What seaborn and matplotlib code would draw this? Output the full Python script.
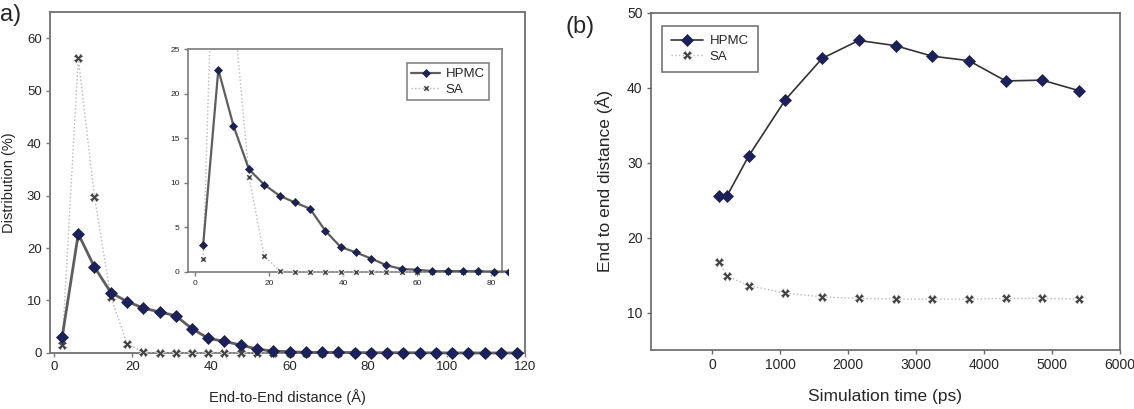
import numpy as np
import pandas as pd
import matplotlib
matplotlib.use("Agg")
import matplotlib.pyplot as plt
import seaborn as sns
from matplotlib.transforms import Bbox, TransformedBbox

sns.set_style("white")
plt.rcParams['font.family'] = ['Liberation Sans', 'DejaVu Sans']

# panel a: end-to-end distance distribution (bin centres, A)
dist = [2.1, 6.2, 10.3, 14.5, 18.6, 22.8, 26.9, 31.0, 35.2, 39.3, 43.4, 47.6,
        51.7, 55.9, 60.0, 64.1, 68.3, 72.4, 76.6, 80.7, 84.8, 89.0, 93.1, 97.2,
        101.4, 105.5, 109.7, 113.8, 117.9]
hpmc_dist = [3.05, 22.7, 16.4, 11.5, 9.8, 8.55, 7.8, 7.1, 4.6, 2.8, 2.2, 1.5,
             0.75, 0.33, 0.25, 0.1, 0.1, 0.1, 0.08, 0.05, 0.05, 0.05, 0.03, 0.03,
             0.0, 0.0, 0.0, 0.0, 0.0]
sa_dist = [1.5, 56.2, 29.8, 10.7, 1.8, 0.15, 0.05, 0.0, 0.0, 0.0, 0.0, 0.0,
           0.0, 0.0, 0.0, 0.0, 0.0, 0.0, 0.0, 0.0, 0.0, 0.0, 0.0, 0.0,
           0.0, 0.0, 0.0, 0.0, 0.0]

# panel b: end to end distance vs simulation time
time_ps = [108, 216, 540, 1080, 1620, 2160, 2700, 3240, 3780, 4320, 4860, 5400]
hpmc_time = [25.6, 25.5, 30.9, 38.4, 43.9, 46.3, 45.6, 44.2, 43.6, 40.9, 41.0, 39.6]
sa_time = [16.7, 14.9, 13.6, 12.6, 12.1, 11.9, 11.8, 11.8, 11.8, 11.9, 11.9, 11.8]

dfa = pd.DataFrame({'d': dist, 'HPMC': hpmc_dist, 'SA': sa_dist})
dfb = pd.DataFrame({'t': time_ps, 'HPMC': hpmc_time, 'SA': sa_time})

navy = '#1b2062'
hp_line = '#5e5e5e'
sa_line = '#b8b8b8'
sa_mark = '#454545'
spine_c = '#7a7a7a'

fig = plt.figure(figsize=(11.34, 4.09), dpi=100)

def style_axes(ax, lw=1.4, col=spine_c, size=10):
    for s in ax.spines.values():
        s.set_color(col)
        s.set_linewidth(lw)
    ax.tick_params(direction='out', length=3, width=1, color=col, pad=3,
                   bottom=True, left=True, labelsize=size)

def draw(ax, df, xcol, ms_d, ms_x, hp_lw, clip=True):
    sns.lineplot(data=df, x=xcol, y='SA', ax=ax, color=sa_line, lw=1.0,
                 linestyle=':', marker='X', markersize=ms_x,
                 markerfacecolor=sa_mark, markeredgecolor='white',
                 markeredgewidth=0.5, label='SA', clip_on=clip, zorder=3)
    sns.lineplot(data=df, x=xcol, y='HPMC', ax=ax, color=hp_line, lw=hp_lw,
                 marker='D', markersize=ms_d, markerfacecolor=navy,
                 markeredgecolor='#222222', markeredgewidth=0.5,
                 label='HPMC', clip_on=clip, zorder=4)

# ---- panel a main
axA = fig.add_axes([0.0441, 0.137, 0.419, 0.834])
draw(axA, dfa, 'd', 6, 6.5, 2.0, clip=False)
axA.set_xlim(-1, 120)
axA.set_ylim(0, 65)
axA.set_xticks([0, 20, 40, 60, 80, 100, 120])
axA.set_yticks([0, 10, 20, 30, 40, 50, 60])
axA.set_xlabel('End-to-End distance (Å)', fontsize=10.5, labelpad=11)
axA.set_ylabel('Distribution (%)', fontsize=10.5, labelpad=8)
axA.get_legend().remove()
style_axes(axA, size=9.5)

# ---- inset
ins = fig.add_axes([0.1658, 0.335, 0.277, 0.545])
draw(ins, dfa, 'd', 4.5, 4.5, 1.6, clip=True)
for ln in ins.lines:
    ln.set_clip_box(TransformedBbox(Bbox([[-0.02, -0.05], [1.02, 1]]),
                                    ins.transAxes))
ins.set_xlim(-2, 83)
ins.set_ylim(0, 25)
ins.set_xticks([0, 20, 40, 60, 80])
ins.set_yticks([0, 5, 10, 15, 20, 25])
ins.set_xlabel('')
ins.set_ylabel('')
style_axes(ins, lw=1.2, size=6)
h, l = ins.get_legend_handles_labels()
leg = ins.legend(h[::-1], l[::-1], loc='upper right', fontsize=9.5,
                 frameon=True, fancybox=False, edgecolor='#666666',
                 handlelength=2.2, handletextpad=0.4, borderpad=0.35,
                 labelspacing=0.25, bbox_to_anchor=(0.98, 0.965))
leg.get_frame().set_linewidth(1.2)

# ---- panel b
axB = fig.add_axes([0.574, 0.144, 0.4134, 0.825])
draw(axB, dfb, 't', 6, 7, 1.2, clip=False)
axB.lines[1].set_color('#333333')
axB.set_xlim(-900, 6000)
axB.set_ylim(5, 50)
axB.set_xticks([0, 1000, 2000, 3000, 4000, 5000, 6000])
axB.set_yticks([10, 20, 30, 40, 50])
axB.set_xlabel('Simulation time (ps)', fontsize=12.5, labelpad=12)
axB.set_ylabel('End to end distance (Å)', fontsize=12.5, labelpad=10)
style_axes(axB, lw=1.2, col='#666666', size=10)
h, l = axB.get_legend_handles_labels()
leg = axB.legend(h[::-1], l[::-1], loc='upper left', fontsize=9.5,
                 frameon=True, fancybox=False, edgecolor='#555555',
                 handlelength=2.4, handletextpad=0.5, borderpad=0.7,
                 labelspacing=0.25, bbox_to_anchor=(0.01, 0.98))
leg.get_frame().set_linewidth(1.2)

fig.text(0.0, 0.99, 'a)', fontsize=17, va='top', ha='left')
fig.text(0.499, 0.96, '(b)', fontsize=17, va='top', ha='left')

fig.savefig('out.png', dpi=100)
